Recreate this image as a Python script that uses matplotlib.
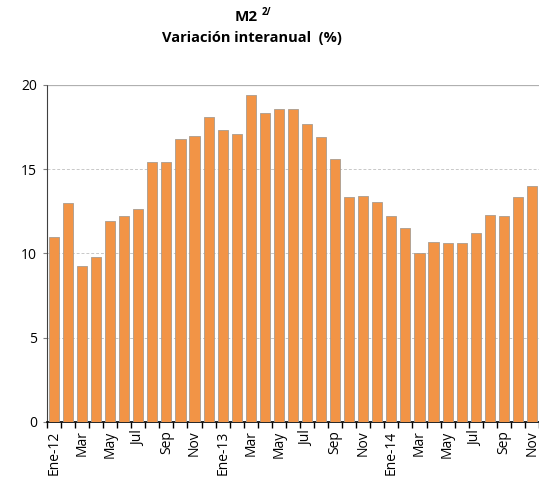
import matplotlib
matplotlib.use("Agg")
import matplotlib.pyplot as plt
import numpy as np

plt.rcParams['font.family'] = ['Open Sans', 'DejaVu Sans']

months = ["Ene-12", "Feb", "Mar", "Abr", "May", "Jun", "Jul", "Ago", "Sep", "Oct", "Nov", "Dic",
          "Ene-13", "Feb", "Mar", "Abr", "May", "Jun", "Jul", "Ago", "Sep", "Oct", "Nov", "Dic",
          "Ene-14", "Feb", "Mar", "Abr", "May", "Jun", "Jul", "Ago", "Sep", "Oct", "Nov"]
m2_var = [11.0, 13.0, 9.25, 9.8, 11.9, 12.2, 12.66, 15.4, 15.4, 16.8, 16.95, 18.1,
          17.3, 17.1, 19.4, 18.35, 18.6, 18.6, 17.7, 16.9, 15.6, 13.35, 13.4, 13.05,
          12.2, 11.5, 10.0, 10.7, 10.6, 10.6, 11.2, 12.3, 12.2, 13.35, 14.0]

fig = plt.figure(figsize=(5.39, 4.87), dpi=100)
ax = fig.add_axes([0.087, 0.1335, 0.913, 0.692])

x = np.arange(len(m2_var))
ax.bar(x, m2_var, width=0.72, color="#F29446", edgecolor="#A89C90", linewidth=0.6, zorder=3)

ax.set_xlim(-0.5, len(m2_var) - 0.5)
ax.set_ylim(0, 20)
ax.set_yticks([0, 5, 10, 15, 20])
ax.tick_params(axis="y", labelsize=10, length=3, color="#808080", pad=4)
for y in [5, 10, 15]:
    ax.axhline(y, color="#C8C8C8", linewidth=0.7, linestyle=(0, (3, 2)), zorder=1)
ax.axhline(20, color="#B0B0B0", linewidth=0.9, zorder=1)

# ticks between categories, labels every second month
ax.set_xticks(np.arange(-0.5, len(m2_var), 1.0), minor=True)
ax.set_xticks(x[::2])
ax.set_xticklabels(months[::2], rotation=90, fontsize=10)
ax.tick_params(axis="x", which="major", length=0, pad=6)
ax.tick_params(axis="x", which="minor", length=4, width=1, color="black")

for s in ["top", "right"]:
    ax.spines[s].set_visible(False)
ax.spines["left"].set_linestyle((0, (1, 1)))
ax.spines["left"].set_color("#404040")
ax.spines["bottom"].set_color("black")
ax.spines["bottom"].set_linewidth(1.2)

fig.text(0.479, 0.966, "M2", ha="right", va="center", fontsize=11, fontweight="bold")
fig.text(0.486, 0.975, "2/", ha="left", va="center", fontsize=7, fontweight="bold")
fig.text(0.4675, 0.921, "Variación interanual  (%)", ha="center", va="center",
         fontsize=10.5, fontweight="bold")

fig.savefig("out.png", dpi=100)
